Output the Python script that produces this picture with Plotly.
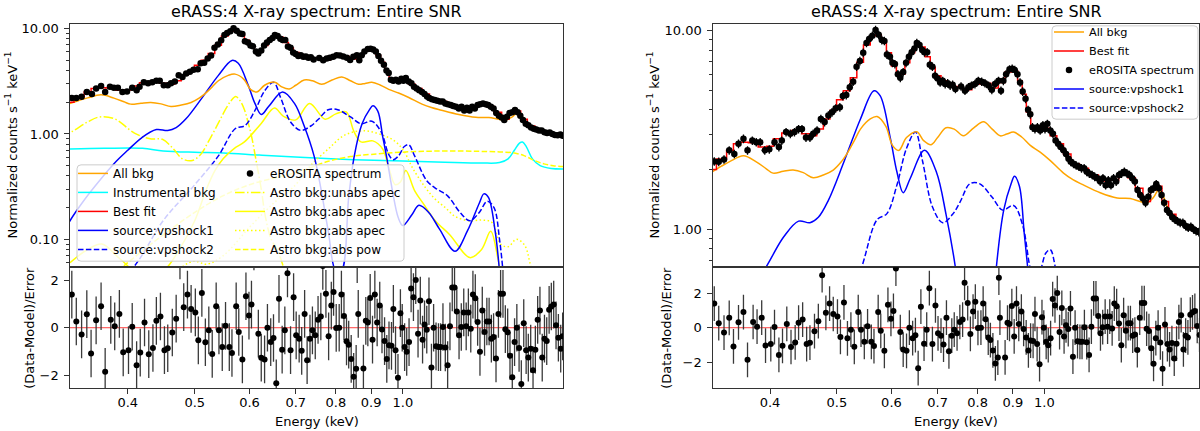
import math
import plotly.graph_objects as go

# ---------------- observed spectrum (keV, counts s^-1 keV^-1) ----------------
data_energy = [
    0.332, 0.337, 0.343, 0.349, 0.355, 0.360, 0.366, 0.371, 0.377, 0.382,
    0.387, 0.393, 0.399, 0.406, 0.412, 0.416, 0.422, 0.428, 0.434, 0.440,
    0.445, 0.451, 0.457, 0.462, 0.468, 0.474, 0.480, 0.486, 0.492, 0.498,
    0.505, 0.510, 0.516, 0.522, 0.528, 0.534, 0.540, 0.546, 0.552, 0.557,
    0.563, 0.569, 0.575, 0.581, 0.586, 0.591, 0.597, 0.602, 0.607, 0.613,
    0.618, 0.624, 0.630, 0.636, 0.642, 0.648, 0.653, 0.659, 0.665, 0.670,
    0.676, 0.682, 0.688, 0.694, 0.700, 0.706, 0.712, 0.718, 0.724, 0.730,
    0.736, 0.743, 0.757, 0.767, 0.776, 0.784, 0.793, 0.802, 0.811, 0.820,
    0.830, 0.839, 0.848, 0.858, 0.865, 0.872, 0.880, 0.890, 0.898, 0.906,
    0.914, 0.922, 0.930, 0.939, 0.947, 0.954, 0.961, 0.969, 0.977, 0.986,
    0.995, 1.002, 1.010, 1.020, 1.029, 1.038, 1.047, 1.056, 1.066, 1.075,
    1.084, 1.092, 1.102, 1.112, 1.122, 1.132, 1.142, 1.152, 1.162, 1.173,
    1.183, 1.194, 1.205, 1.216, 1.227, 1.238, 1.249, 1.260, 1.271, 1.283,
    1.294, 1.306, 1.318, 1.329, 1.341, 1.353, 1.365, 1.377, 1.390, 1.402,
    1.415, 1.427, 1.440, 1.453, 1.466, 1.479, 1.492, 1.506, 1.519, 1.533,
    1.547, 1.560, 1.574, 1.588, 1.603, 1.617, 1.631, 1.646, 1.660, 1.675,
    1.690, 1.703,
]
data_flux = [
    2.20, 2.19, 2.25, 2.50, 2.40, 2.70, 2.86, 2.50, 2.80, 2.75,
    2.75, 2.50, 2.53, 2.75, 2.60, 2.80, 3.09, 3.03, 3.09, 3.20,
    3.20, 2.90, 2.90, 3.03, 3.15, 3.60, 3.47, 3.75, 3.89, 4.07,
    4.12, 4.70, 4.75, 5.20, 5.55, 6.60, 7.05, 7.76, 8.70, 9.10,
    9.45, 10.1, 9.55, 9.00, 8.90, 7.60, 7.40, 6.90, 6.80, 6.05,
    5.80, 6.20, 6.90, 7.40, 7.80, 8.15, 8.70, 8.50, 8.00, 7.80,
    7.80, 6.75, 6.60, 5.95, 5.75, 5.50, 5.60, 5.40, 5.45, 5.30,
    5.35, 5.10, 5.25, 5.00, 5.20, 5.30, 5.40, 5.60, 5.55, 5.45,
    5.30, 5.05, 5.40, 5.60, 5.00, 5.60, 6.05, 6.40, 6.45, 6.35,
    6.05, 5.50, 4.95, 4.55, 4.00, 3.80, 3.27, 3.20, 3.27, 3.15,
    3.35, 3.20, 3.40, 3.15, 3.03, 2.80, 2.70, 2.60, 2.50, 2.40,
    2.27, 2.19, 2.14, 2.10, 2.07, 2.03, 2.03, 1.95, 1.91, 1.88,
    1.84, 1.81, 1.74, 1.81, 1.67, 1.77, 1.67, 1.81, 1.74, 1.88,
    1.91, 1.95, 1.91, 1.88, 1.81, 1.74, 1.58, 1.49, 1.43, 1.36,
    1.46, 1.58, 1.61, 1.69, 1.61, 1.49, 1.36, 1.25, 1.21, 1.15,
    1.12, 1.10, 1.08, 1.08, 1.04, 1.02, 1.03, 1.00, 0.98, 0.97,
    0.99, 0.96,
]

# ---------------- residuals (Data-Model)/Error ----------------
resid_energy = [
    0.332, 0.337, 0.343, 0.349, 0.354, 0.360, 0.366, 0.371, 0.378, 0.383,
    0.389, 0.394, 0.401, 0.406, 0.412, 0.417, 0.423, 0.429, 0.435, 0.440,
    0.446, 0.452, 0.457, 0.464, 0.470, 0.476, 0.482, 0.488, 0.494, 0.501,
    0.506, 0.512, 0.518, 0.524, 0.530, 0.537, 0.542, 0.548, 0.554, 0.561,
    0.566, 0.574, 0.579, 0.586, 0.593, 0.599, 0.604, 0.609, 0.618, 0.624,
    0.631, 0.637, 0.644, 0.650, 0.656, 0.662, 0.669, 0.675, 0.681, 0.688,
    0.695, 0.701, 0.708, 0.714, 0.721, 0.727, 0.734, 0.740, 0.747, 0.754,
    0.761, 0.766, 0.774, 0.781, 0.788, 0.794, 0.801, 0.809, 0.815, 0.822,
    0.829, 0.835, 0.842, 0.849, 0.856, 0.859, 0.862, 0.877, 0.884, 0.890,
    0.897, 0.904, 0.911, 0.918, 0.926, 0.933, 0.941, 0.948, 0.955, 0.963,
    0.969, 0.976, 0.984, 0.992, 0.998, 1.006, 1.013, 1.021, 1.028, 1.036,
    1.044, 1.052, 1.060, 1.068, 1.075, 1.083, 1.091, 1.100, 1.108, 1.117,
    1.126, 1.134, 1.143, 1.152, 1.161, 1.170, 1.179, 1.188, 1.197, 1.206,
    1.215, 1.225, 1.235, 1.244, 1.254, 1.263, 1.273, 1.283, 1.293, 1.303,
    1.313, 1.323, 1.333, 1.343, 1.353, 1.364, 1.375, 1.385, 1.396, 1.407,
    1.418, 1.429, 1.440, 1.451, 1.462, 1.473, 1.484, 1.496, 1.508, 1.519,
    1.531, 1.543, 1.555, 1.567, 1.579, 1.591, 1.603, 1.615, 1.628, 1.640,
    1.653, 1.666, 1.679, 1.692, 1.703,
]
resid_value = [
    1.39, 0.26, -0.28, 0.57, -1.08, 0.31, 0.90, -1.85, 0.33, 0.06,
    0.58, -1.03, -0.94, 0.04, -1.57, -1.04, 0.22, -1.11, -0.85, 0.29,
    0.47, -0.94, -0.86, -0.20, 0.38, 3.03, 0.86, 1.39, 0.79, 0.64,
    -0.53, 1.46, -0.61, -0.11, -1.10, 0.90, -0.11, -0.81, 0.08, -0.81,
    -1.06, 0.90, -0.18, -1.33, 1.32, 0.51, 0.97, 3.41, -0.25, -1.26,
    -1.33, 0.00, -0.60, -0.43, -2.33, 1.21, -0.92, -0.11, 2.28, -0.94,
    1.28, -0.32, -0.46, -0.97, 0.58, -1.36, -0.46, -0.11, -0.32, 0.33,
    0.47, 2.59, 1.42, -0.36, 0.93, 1.50, -0.01, 0.00, 1.39, 0.49,
    -0.57, -0.71, -1.31, -2.06, -1.72, 2.88, 0.58, -1.71, 0.29, 0.22,
    1.25, -0.50, 1.39, 0.22, 0.93, -0.07, -0.56, -1.31, -0.74, -0.76,
    0.79, -0.94, -2.10, 0.61, 0.00, -0.81, -1.01, -0.60, 1.65, 1.28,
    2.00, -0.25, 1.14, -0.50, 0.14, -0.08, 1.11, -1.67, 0.00, -0.78,
    -0.81, -0.81, 0.03, -0.83, -1.57, 0.06, 1.69, 1.69, 0.68, -0.32,
    0.03, 0.64, 0.06, 0.64, -0.04, 1.39, 1.24, 0.24, -1.01, 0.72,
    -0.18, 0.26, 0.26, -0.46, -0.39, -1.29, 0.58, 1.42, 1.42, -0.06,
    -0.19, -1.18, -2.08, -0.60, 0.00, -0.85, -2.36, 0.19, -0.94, -1.25,
    -0.88, -1.78, -0.92, 0.33, 0.72, -1.25, -0.46, -0.56, 0.75, 0.89,
    0.97, 0.10, -0.42, -0.88, -0.36,
]

# ---------------- model curves ----------------
fit_energy = [
    0.327, 0.342, 0.350, 0.358, 0.366, 0.378, 0.391, 0.400, 0.409, 0.423,
    0.437, 0.452, 0.462, 0.473, 0.483, 0.494, 0.505, 0.517, 0.529, 0.540,
    0.553, 0.565, 0.575, 0.585, 0.595, 0.605, 0.615, 0.622, 0.633, 0.643,
    0.654, 0.666, 0.677, 0.689, 0.700, 0.716, 0.730, 0.750, 0.772, 0.798,
    0.825, 0.848, 0.867, 0.887, 0.907, 0.922, 0.935, 0.948, 0.963, 0.986,
    1.008, 1.031, 1.054, 1.078, 1.108, 1.140, 1.178, 1.218, 1.260, 1.303,
    1.340, 1.370, 1.410, 1.440, 1.464, 1.498, 1.530, 1.574, 1.619, 1.663,
    1.705,
]
fit_flux = [
    2.00, 2.26, 2.50, 2.70, 2.75, 2.73, 2.60, 2.62, 2.86, 3.06,
    3.15, 3.03, 2.96, 3.20, 3.60, 3.97, 4.50, 5.00, 5.80, 6.95,
    8.50, 9.45, 9.55, 8.90, 7.76, 6.65, 6.05, 6.05, 6.90, 7.76,
    8.40, 8.30, 7.40, 6.55, 5.95, 5.60, 5.40, 5.25, 5.05, 5.40,
    5.45, 5.15, 5.50, 6.20, 6.30, 5.60, 4.80, 3.90, 3.30, 3.23,
    3.23, 2.96, 2.70, 2.40, 2.14, 2.03, 1.88, 1.75, 1.77, 1.88,
    1.82, 1.61, 1.38, 1.58, 1.65, 1.38, 1.19, 1.10, 1.03, 0.98,
    0.96,
]

allbkg_energy = [
    0.327, 0.340, 0.350, 0.366, 0.382, 0.395, 0.404, 0.418, 0.432, 0.447,
    0.462, 0.478, 0.494, 0.508, 0.517, 0.530, 0.541, 0.559, 0.572, 0.589,
    0.602, 0.615, 0.631, 0.653, 0.668, 0.685, 0.700, 0.720, 0.740, 0.763,
    0.790, 0.816, 0.840, 0.863, 0.882, 0.902, 0.927, 0.954, 0.986, 1.020,
    1.066, 1.100, 1.137, 1.205, 1.275, 1.332, 1.377, 1.410, 1.440, 1.465,
    1.490, 1.510, 1.550, 1.590, 1.640, 1.705,
]
allbkg_flux = [
    1.91, 2.08, 2.20, 2.35, 2.19, 2.02, 1.92, 1.96, 1.99, 1.93,
    1.82, 1.88, 1.99, 2.20, 2.40, 2.80, 3.20, 3.60, 3.70, 3.30,
    2.65, 2.50, 2.90, 3.10, 2.80, 2.67, 2.90, 3.25, 3.20, 2.96,
    3.25, 3.48, 3.20, 2.96, 3.02, 3.09, 2.92, 2.65, 2.45, 2.22,
    1.92, 1.78, 1.68, 1.53, 1.44, 1.43, 1.38, 1.36, 1.45, 1.58,
    1.45, 1.28, 1.14, 1.06, 1.01, 0.97,
]

instr_energy = [0.33, 0.37, 0.42, 0.45, 0.50, 0.55, 0.62, 0.71, 0.85, 1.00, 1.15,
                1.30, 1.38, 1.42, 1.45, 1.475, 1.49, 1.51, 1.54, 1.58, 1.64, 1.71]
instr_flux = [0.72, 0.73, 0.73, 0.69, 0.67, 0.66, 0.63, 0.60, 0.57, 0.555, 0.54,
              0.53, 0.535, 0.58, 0.70, 0.82, 0.84, 0.75, 0.58, 0.50, 0.47, 0.465]

unabs_energy = [0.320, 0.331, 0.350, 0.364, 0.383, 0.409, 0.431, 0.449, 0.465, 0.480,
                0.496, 0.510, 0.523, 0.542, 0.555, 0.564, 0.573, 0.582, 0.590, 0.597,
                0.604, 0.614, 0.624, 0.632, 0.645, 0.658, 0.675, 0.700, 0.750]
unabs_flux = [0.95, 1.04, 1.30, 1.45, 1.39, 1.02, 0.90, 0.89, 0.73, 0.58,
              0.56, 0.64, 0.84, 1.30, 1.75, 2.06, 2.27, 2.05, 1.70, 1.30,
              0.96, 0.54, 0.30, 0.17, 0.10, 0.08, 0.05, 0.025, 0.01]

absapec_energy = [0.33, 0.35, 0.367, 0.39, 0.42, 0.45, 0.48, 0.50, 0.52, 0.535,
                  0.55, 0.57, 0.59, 0.624, 0.652, 0.672, 0.70, 0.733, 0.772, 0.80,
                  0.828, 0.85, 0.87, 0.905, 0.935, 0.955, 0.975, 0.992, 1.01, 1.04,
                  1.075, 1.114, 1.17, 1.25, 1.30, 1.34, 1.37, 1.40, 1.43]
absapec_flux = [0.06, 0.08, 0.09, 0.065, 0.045, 0.05, 0.09, 0.15, 0.30, 0.45,
                0.585, 0.727, 0.84, 1.26, 1.76, 1.47, 1.36, 1.95, 1.38, 1.55,
                1.62, 1.05, 0.84, 0.86, 0.72, 0.47, 0.33, 0.35, 0.45, 0.29,
                0.21, 0.15, 0.11, 0.067, 0.08, 0.119, 0.07, 0.03, 0.01]

absapec2_energy = [0.40, 0.45, 0.48, 0.50, 0.52, 0.55, 0.60, 0.65, 0.70, 0.731,
                   0.78, 0.825, 0.883, 0.944, 0.975, 1.002, 1.034, 1.078, 1.114, 1.152,
                   1.19, 1.25, 1.30, 1.345, 1.385, 1.42, 1.46, 1.50, 1.527, 1.56, 1.60]
absapec2_flux = [0.02, 0.035, 0.055, 0.062, 0.058, 0.07, 0.13, 0.22, 0.33, 0.48,
                 0.72, 0.98, 1.07, 0.95, 0.85, 0.70, 0.47, 0.31, 0.24, 0.20,
                 0.165, 0.15, 0.152, 0.145, 0.09, 0.085, 0.10, 0.088, 0.06, 0.03, 0.01]

abspow_energy = [0.33, 0.40, 0.45, 0.50, 0.55, 0.60, 0.65, 0.70, 0.73, 0.78, 0.84, 0.90,
                 0.99, 1.08, 1.17, 1.28, 1.38, 1.45, 1.50, 1.55, 1.60, 1.65, 1.71]
abspow_flux = [0.02, 0.06, 0.11, 0.18, 0.26, 0.33, 0.38, 0.43, 0.47, 0.55, 0.61, 0.64,
               0.67, 0.685, 0.69, 0.685, 0.675, 0.66, 0.62, 0.56, 0.52, 0.50, 0.49]

vps1_energy = [0.320, 0.330, 0.345, 0.364, 0.385, 0.400, 0.419, 0.440, 0.457, 0.470,
               0.486, 0.512, 0.541, 0.566, 0.578, 0.598, 0.611, 0.624, 0.639, 0.670,
               0.697, 0.720, 0.744, 0.760, 0.780, 0.800, 0.815, 0.835, 0.850, 0.873,
               0.895, 0.905, 0.920, 0.935, 0.950, 0.965, 0.985, 1.000, 1.030, 1.055,
               1.090, 1.130, 1.190, 1.240, 1.290, 1.310, 1.330, 1.360, 1.380, 1.400]
vps1_flux = [0.10, 0.15, 0.23, 0.36, 0.55, 0.70, 0.92, 1.10, 1.08, 1.15,
             1.40, 2.19, 3.60, 4.99, 4.70, 2.86, 1.95, 1.53, 1.81, 2.50,
             1.95, 1.19, 0.62, 0.32, 0.12, 0.05, 0.05, 0.25, 0.60, 1.25,
             1.70, 1.85, 1.65, 0.95, 0.55, 0.30, 0.16, 0.135, 0.17, 0.21,
             0.18, 0.125, 0.077, 0.12, 0.22, 0.27, 0.25, 0.12, 0.05, 0.015]

vps2_energy = [0.33, 0.37, 0.414, 0.45, 0.50, 0.541, 0.572, 0.591, 0.611, 0.631,
               0.650, 0.666, 0.688, 0.712, 0.736, 0.755, 0.780, 0.805, 0.840, 0.870,
               0.902, 0.930, 0.954, 0.968, 0.986, 1.005, 1.020, 1.040, 1.083, 1.120,
               1.160, 1.210, 1.250, 1.290, 1.325, 1.355, 1.380, 1.400, 1.420]
vps2_flux = [0.008, 0.025, 0.062, 0.15, 0.33, 0.62, 1.12, 1.20, 1.67, 2.56,
             3.09, 2.19, 1.30, 1.08, 1.19, 1.38, 1.70, 1.70, 1.45, 1.25,
             1.32, 1.05, 0.64, 0.57, 0.62, 0.76, 0.79, 0.62, 0.36, 0.30,
             0.26, 0.18, 0.15, 0.18, 0.23, 0.20, 0.10, 0.04, 0.01]

xtick_vals = [0.4, 0.5, 0.6, 0.7, 0.8, 0.9, 1.0]
xtick_text = ["0.4", "0.5", "0.6", "0.7", "0.8", "0.9", "1.0"]

TITLE = "eRASS:4 X-ray spectrum: Entire SNR"

# ---------------- layout helpers ----------------
W, H = 1200, 431
FONT = "DejaVu Sans"
AX = "#333333"
# matplotlib-like dash patterns
DASH = "5.5px,2.4px"
DASHDOT = "9.6px,2.4px,1.5px,2.4px"
DOT = "1.5px,2.5px"


def fx(p):
    return p / W


def fy(p):
    return 1 - p / H


LEFT = [fx(70), fx(563)]
RIGHT = [fx(713), fx(1199)]
MAIN = [fy(266), fy(21)]
RES = [fy(388), fy(266)]

fig = go.Figure()


def curve(x, y, xa, ya, name, color, dash="solid", legend="legend", rank=1,
          show=True, shape="spline"):
    fig.add_trace(go.Scatter(
        x=x, y=y, xaxis=xa, yaxis=ya, mode="lines", name=name,
        line=dict(color=color, width=1.5, dash=dash, shape=shape),
        legend=legend, legendrank=rank, showlegend=show, hoverinfo="skip"))


def spectrum(xa, ya, legend, rank):
    fig.add_trace(go.Scatter(
        x=data_energy, y=data_flux, xaxis=xa, yaxis=ya, mode="markers",
        name="eROSITA spectrum", legend=legend, legendrank=rank,
        marker=dict(color="black", size=6.5),
        error_y=dict(type="percent", value=5, color="black", thickness=1.3, width=0),
        error_x=dict(type="percent", value=0.8, color="black", thickness=1.3, width=0)))


def residuals(xa, ya):
    fig.add_trace(go.Scatter(
        x=resid_energy, y=resid_value, xaxis=xa, yaxis=ya, mode="markers",
        showlegend=False, marker=dict(color="black", size=6),
        error_y=dict(type="constant", value=1, color="#3a3a3a", thickness=1.3, width=0)))


# left panel: full model decomposition
curve(instr_energy, instr_flux, "x", "y", "Instrumental bkg", "#00ffff", rank=2)
curve(unabs_energy, unabs_flux, "x", "y", "Astro bkg:unabs apec", "#ffff00", DASHDOT, "legend2", 2)
curve(absapec_energy, absapec_flux, "x", "y", "Astro bkg:abs apec", "#ffff00", "solid", "legend2", 3)
curve(absapec2_energy, absapec2_flux, "x", "y", "Astro bkg:abs apec", "#ffff00", DOT, "legend2", 4)
curve(abspow_energy, abspow_flux, "x", "y", "Astro bkg:abs pow", "#ffff00", DASH, "legend2", 5)
curve(vps1_energy, vps1_flux, "x", "y", "source:vpshock1", "#0000ff", rank=4)
curve(vps2_energy, vps2_flux, "x", "y", "source:vpshock2", "#0000ff", DASH, rank=5)
curve(allbkg_energy, allbkg_flux, "x", "y", "All bkg", "#ffa500", rank=1)
curve(fit_energy, fit_flux, "x", "y", "Best fit", "#ff0000", rank=3, shape="hvh")
spectrum("x", "y", "legend2", 1)
residuals("x2", "y2")

# right panel: source components only
curve(vps1_energy, vps1_flux, "x3", "y3", "source:vpshock1", "#0000ff", legend="legend3", rank=4)
curve(vps2_energy, vps2_flux, "x3", "y3", "source:vpshock2", "#0000ff", DASH, "legend3", 5)
curve(allbkg_energy, allbkg_flux, "x3", "y3", "All bkg", "#ffa500", legend="legend3", rank=1)
curve(fit_energy, fit_flux, "x3", "y3", "Best fit", "#ff0000", legend="legend3", rank=2, shape="hvh")
spectrum("x3", "y3", "legend3", 3)
residuals("x4", "y4")

tickfont = dict(family=FONT, size=13, color="black")
common = dict(showline=True, linecolor=AX, linewidth=1.3, mirror=True, ticks="outside",
              ticklen=4.5, tickwidth=1.1, tickcolor=AX, showgrid=False, zeroline=False,
              tickfont=tickfont)
xr_left = [math.log10(0.330), math.log10(1.705)]
xr_right = [math.log10(0.3306), math.log10(1.676)]
minor_left = [0.06, 0.07, 0.08, 0.09] + [i / 10 for i in range(2, 10)] + list(range(2, 10))
minor_right = [0.7, 0.8, 0.9] + list(range(2, 10))
minor_style = dict(tickmode="array", ticks="outside", ticklen=2.5, tickwidth=1, tickcolor=AX)

fig.update_layout(
    width=W, height=H, margin=dict(l=0, r=0, t=0, b=0),
    paper_bgcolor="white", plot_bgcolor="white", hovermode=False,
    font=dict(family=FONT, size=13, color="black"),
    xaxis=dict(common, domain=LEFT, type="log", range=xr_left, anchor="y", matches="x2",
               showticklabels=False, ticks=""),
    yaxis=dict(common, domain=MAIN, type="log", anchor="x",
               range=[math.log10(0.0544), math.log10(11.1)],
               tickmode="array", tickvals=[0.1, 1, 10], ticktext=["0.10", "1.00", "10.00"],
               minor=dict(minor_style, tickvals=minor_left), ticklabelstandoff=3),
    xaxis2=dict(common, domain=LEFT, type="log", range=xr_left, anchor="y2",
                tickmode="array", tickvals=xtick_vals, ticktext=xtick_text, ticklabelstandoff=-3),
    yaxis2=dict(common, domain=RES, range=[-2.54, 2.54], anchor="x2",
                tickmode="array", tickvals=[-2, 0, 2], ticklabelstandoff=3),
    xaxis3=dict(common, domain=RIGHT, type="log", range=xr_right, anchor="y3", matches="x4",
                showticklabels=False, ticks=""),
    yaxis3=dict(common, domain=MAIN, type="log", anchor="x3",
                range=[math.log10(0.645), math.log10(10.85)],
                tickmode="array", tickvals=[1, 10], ticktext=["1.00", "10.00"],
                minor=dict(minor_style, tickvals=minor_right), ticklabelstandoff=3),
    xaxis4=dict(common, domain=RIGHT, type="log", range=xr_right, anchor="y4",
                tickmode="array", tickvals=xtick_vals, ticktext=xtick_text, ticklabelstandoff=-3),
    yaxis4=dict(common, domain=RES, range=[-3.49, 3.49], anchor="x4",
                tickmode="array", tickvals=[-2, 0, 2], ticklabelstandoff=3),
    showlegend=True,
)

leg = dict(bgcolor="rgba(0,0,0,0)", borderwidth=0, itemwidth=30,
           font=dict(family=FONT, size=12, color="black"),
           xanchor="left", yanchor="top", tracegroupgap=0, traceorder="normal")
fig.update_layout(legend=dict(leg, x=fx(73), y=fy(157)),
                  legend2=dict(leg, x=fx(230), y=fy(157)),
                  legend3=dict(leg, x=fx(1049), y=fy(14.5),
                               font=dict(family=FONT, size=11.3, color="black")))


def box(x0, y0, x1, y1, r=4):
    X = lambda p: f"{fx(p):.5f}"
    Y = lambda p: f"{fy(p):.5f}"
    path = (f"M {X(x0 + r)},{Y(y0)} L {X(x1 - r)},{Y(y0)} Q {X(x1)},{Y(y0)} {X(x1)},{Y(y0 + r)} "
            f"L {X(x1)},{Y(y1 - r)} Q {X(x1)},{Y(y1)} {X(x1 - r)},{Y(y1)} "
            f"L {X(x0 + r)},{Y(y1)} Q {X(x0)},{Y(y1)} {X(x0)},{Y(y1 - r)} "
            f"L {X(x0)},{Y(y0 + r)} Q {X(x0)},{Y(y0)} {X(x0 + r)},{Y(y0)} Z")
    return dict(type="path", xref="paper", yref="paper", path=path,
                fillcolor="rgba(255,255,255,0.8)", line=dict(color="#cccccc", width=1),
                layer="above")


shapes = [box(77, 163, 404, 260), box(1052, 23, 1198, 117)]
for xa, ya in (("x2", "y2"), ("x4", "y4")):
    shapes.append(dict(type="line", xref=xa + " domain", yref=ya, x0=0, x1=1, y0=0, y1=0,
                       line=dict(color="rgba(255,0,0,0.75)", width=1), layer="below"))
fig.update_layout(shapes=shapes)

ann = []
for dom in (LEFT, RIGHT):
    cx = (dom[0] + dom[1]) / 2
    ann.append(dict(text=TITLE, x=cx, y=fy(9), xref="paper", yref="paper", showarrow=False,
                    xanchor="center", yanchor="middle", font=dict(family=FONT, size=16)))
    ann.append(dict(text="Energy (keV)", x=cx, y=fy(421), xref="paper", yref="paper",
                    showarrow=False, xanchor="center", yanchor="middle",
                    font=dict(family=FONT, size=13)))
ylab = "Normalized counts s<sup>−1</sup> keV<sup>−1</sup>"
for xm, xr in ((11, 30), (653, 667)):
    ann.append(dict(text=ylab, x=fx(xm), y=fy(143.5), xref="paper", yref="paper",
                    showarrow=False, textangle=-90, xanchor="center", yanchor="middle",
                    font=dict(family=FONT, size=13)))
    ann.append(dict(text="(Data-Model)/Error", x=fx(xr), y=fy(327), xref="paper", yref="paper",
                    showarrow=False, textangle=-90, xanchor="center", yanchor="middle",
                    font=dict(family=FONT, size=13)))
fig.update_layout(annotations=ann)

# drop the browser's default 8px body margin so the figure fills the window
fig.write_html("out.html", config={"displayModeBar": False},
               post_script="document.body.style.margin='0';")
